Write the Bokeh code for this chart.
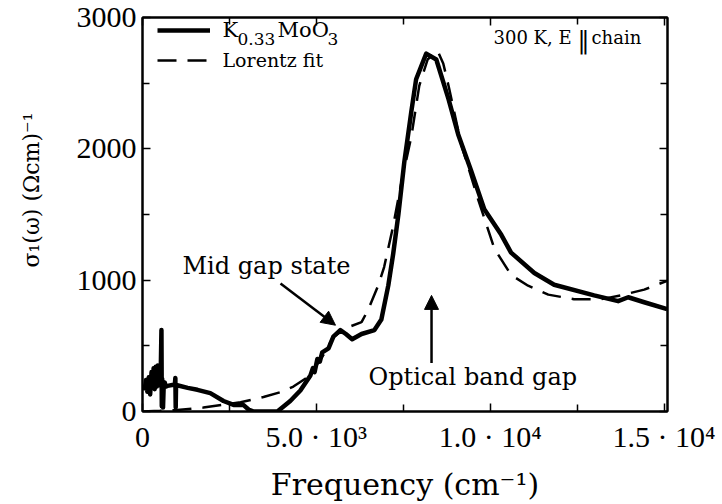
from bokeh.plotting import figure
from bokeh.models import (Range1d, FixedTicker, LinearAxis, Arrow, NormalHead,
                          Label, Legend, LegendItem)
from bokeh.embed import file_html
from bokeh.resources import INLINE

# ---- data ----
meas_x = [60, 100, 140, 180, 220, 260, 290, 320, 350, 380, 410, 440, 470, 520,
          545, 555, 565, 590, 610, 640, 670, 720, 930, 945, 955, 965, 1000,
          1300, 1580, 1950, 2330, 2620, 2900, 3050, 3200, 3880, 4250, 4540,
          4830, 4900, 4950, 5030, 5100, 5170, 5350, 5490, 5690, 5850, 6030,
          6300, 6670, 6870, 7070, 7210, 7360, 7530, 7730, 7870, 8160, 8450,
          8800, 9080, 9450, 9830, 10320, 10600, 11270, 11840, 12990, 13680,
          13970, 14430, 15090]
meas_y = [160, 240, 150, 260, 130, 300, 180, 330, 170, 340, 190, 350, 200, 230,
          620, 40, 250, 30, 200, 220, 190, 195, 205, 255, 30, 200, 200,
          180, 165, 140, 80, 50, 50, 15, 0, 0, 80, 160,
          275, 330, 300, 400, 380, 450, 480, 570, 620, 590, 550,
          590, 620, 700, 960, 1200, 1500, 1900, 2280, 2530, 2725, 2680,
          2380, 2110, 1835, 1540, 1345, 1210, 1055, 965, 884, 840,
          870, 832, 780]

fit_x = [0, 500, 1000, 1750, 2820, 3480, 4000, 4340, 4740, 5000, 5250, 5490,
         5900, 6300, 6500, 6780, 6950, 7200, 7450, 7730, 7960, 8200, 8480,
         8650, 8820, 9170, 9660, 10120, 10600, 11090, 11670, 12410, 13190,
         13770, 14430, 15090]
fit_y = [0, 5, 12, 30, 70, 110, 150, 190, 260, 350, 450, 570,
         640, 680, 780, 960, 1100, 1400, 1750, 2090, 2480, 2680, 2750,
         2650, 2460, 2030, 1610, 1240, 1040, 958, 890, 855, 855,
         885, 928, 995]

x_ticks = [0, 5000, 10000, 15000]
x_minor = [2500, 7500, 12500]
x_tick_labels = {0: "0", 5000: "5.0 · 10³", 10000: "1.0 · 10⁴", 15000: "1.5 · 10⁴"}
y_ticks = [0, 1000, 2000, 3000]
y_minor = [500, 1500, 2500]

SERIF = "DejaVu Serif"
TICKFONT = "Liberation Serif"
NB = "\u00a0"

p = figure(width=722, height=504, output_backend="svg", toolbar_location=None,
           x_range=Range1d(0, 15100), y_range=Range1d(0, 3000),
           min_border_left=142, min_border_right=55, min_border_top=17,
           min_border_bottom=90, x_axis_location=None, y_axis_location=None)
p.xgrid.visible = False
p.ygrid.visible = False
p.outline_line_color = "black"
p.outline_line_width = 2
p.background_fill_color = "white"
p.border_fill_color = "white"


def style_axis(ax, ticks, minor, show_labels):
    ax.ticker = FixedTicker(ticks=ticks, minor_ticks=minor)
    ax.axis_line_color = "black"
    ax.axis_line_width = 2
    ax.major_tick_in = 8
    ax.major_tick_out = 0
    ax.minor_tick_in = 7
    ax.minor_tick_out = 0
    ax.major_tick_line_width = 1.5
    ax.minor_tick_line_width = 1.5
    ax.major_tick_line_color = "black"
    ax.minor_tick_line_color = "black"
    if show_labels:
        ax.major_label_text_font = TICKFONT
        ax.major_label_text_font_size = "30px"
        ax.major_label_text_color = "black"
    else:
        ax.major_label_text_font_size = "1px"
        ax.major_label_text_color = None
        ax.major_label_standoff = 0


xb = LinearAxis(axis_label="Frequency (cm⁻¹)")
style_axis(xb, x_ticks, x_minor, True)
xb.major_label_overrides = x_tick_labels
xb.major_label_standoff = 8
xb.axis_label_standoff = 11
xb.axis_label_text_font = SERIF
xb.axis_label_text_font_size = "30px"
xb.axis_label_text_font_style = "normal"
xb.axis_label_text_color = "black"
p.add_layout(xb, "below")

yl = LinearAxis(axis_label=NB * 7 + "σ₁(ω) (Ωcm)⁻¹")
style_axis(yl, y_ticks, y_minor, True)
yl.major_label_standoff = 6
yl.axis_label_standoff = 30
yl.axis_label_text_font = SERIF
yl.axis_label_text_font_size = "22px"
yl.axis_label_text_font_style = "normal"
yl.axis_label_text_color = "black"
p.add_layout(yl, "left")

xt = LinearAxis()
style_axis(xt, x_ticks, x_minor, False)
p.add_layout(xt, "above")
yr = LinearAxis()
style_axis(yr, y_ticks, y_minor, False)
p.add_layout(yr, "right")

r_meas = p.line(meas_x, meas_y, line_color="black", line_width=4.5,
                line_join="round")
r_fit = p.line(fit_x, fit_y, line_color="black", line_width=2.5,
               line_dash="19 11")

legend = Legend(items=[LegendItem(label=NB, renderers=[r_meas]),
                       LegendItem(label=NB, renderers=[r_fit])],
                location=(15, 337), padding=0, margin=0, spacing=2,
                glyph_width=53, glyph_height=28, label_height=28,
                label_standoff=12, border_line_color=None,
                background_fill_alpha=0,
                label_text_font=SERIF, label_text_font_size="19px",
                label_text_color="black")
p.add_layout(legend)

BASE_UP = 8  # alphabetic baseline correction


def lab(x, y, text, size, x_offset=0, y_offset=0):
    p.add_layout(Label(x=x, y=y, text=text, text_font=SERIF,
                       text_font_size=size, text_color="black",
                       text_baseline="alphabetic", x_offset=x_offset,
                       y_offset=y_offset + BASE_UP))


# legend labels (K0.33MoO3 with real subscripts)
lab(2301, 2841, "K", "21px")
lab(2301, 2841, "0.33", "17px", x_offset=15, y_offset=-9)
lab(2301, 2841, "MoO", "21px", x_offset=55)
lab(2301, 2841, "3", "17px", x_offset=105, y_offset=-9)
lab(2301, 2615, "Lorentz fit", "19px")

# top-right condition text
lab(10096, 2789, "300 K, E", "18px")
lab(10096, 2789, "‖", "24px", x_offset=84, y_offset=-3)
lab(10096, 2789, "chain", "18px", x_offset=98)

lab(1150, 1050, "Mid gap state", "24px")
lab(6500, 204, "Optical band gap", "24px")

p.add_layout(Arrow(x_start=3969, y_start=975, x_end=5551, y_end=657,
                   line_width=2.5, line_color="black",
                   end=NormalHead(size=14, fill_color="black", line_color="black")))
p.add_layout(Arrow(x_start=8313, y_start=370, x_end=8313, y_end=884,
                   line_width=2.5, line_color="black",
                   end=NormalHead(size=14, fill_color="black", line_color="black")))

open("out.html", "w").write(file_html(p, INLINE))
